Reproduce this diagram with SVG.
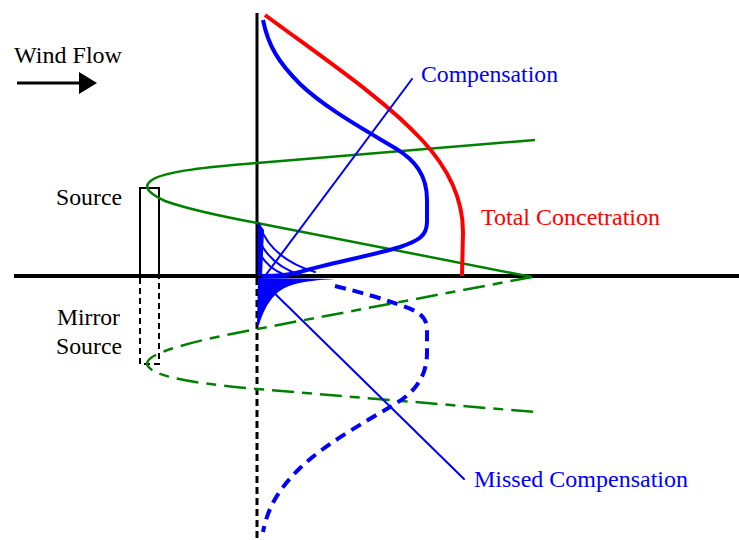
<svg xmlns="http://www.w3.org/2000/svg" width="739" height="540" viewBox="0 0 739 540">
<style>
  text { font-family: "Liberation Serif", "Times New Roman", serif; font-size: 23px; }
  .blk { fill: #000; }
  .blu { fill: #0000FF; }
  .red { fill: #FF0000; }
  .axis { stroke: #000; fill: none; }
  .green { stroke: #008000; stroke-width: 2.5; fill: none; }
  .greenDash { stroke: #008000; stroke-width: 2.5; fill: none; stroke-dasharray: 22 8 10 8; }
  .blueThick { stroke: #0000FF; stroke-width: 4; fill: none; stroke-linejoin: round; }
  .blueDash { stroke: #0000FF; stroke-width: 4; fill: none; stroke-dasharray: 11 7; }
  .blueThin { stroke: #0000FF; stroke-width: 2; fill: none; stroke-linecap: round; }
  .redThick { stroke: #FF0000; stroke-width: 4; fill: none; stroke-linejoin: round; }
</style>
<rect width="739" height="540" fill="#fff"/>

<g id="axes">
  <line class="axis" x1="14" y1="276" x2="739" y2="276" stroke-width="4"/>
  <line class="axis" x1="257" y1="13" x2="257" y2="276" stroke-width="3"/>
  <line class="axis" x1="257" y1="278" x2="257" y2="540" stroke-width="3" stroke-dasharray="7 4"/>
</g>

<g id="wind-flow">
  <text class="blk" x="14" y="63" textLength="108" lengthAdjust="spacingAndGlyphs">Wind Flow</text>
  <line x1="17" y1="83" x2="82" y2="83" stroke="#000" stroke-width="3"/>
  <polygon points="79,72 97,83 79,94" fill="#000"/>
</g>

<g id="source">
  <polyline points="140,276 140,188 159,188 159,276" fill="none" stroke="#000" stroke-width="2"/>
  <text class="blk" x="56" y="205" textLength="66" lengthAdjust="spacingAndGlyphs">Source</text>
</g>

<g id="mirror-source">
  <polyline points="140,278 140,364 159,364 159,278" fill="none" stroke="#000" stroke-width="2" stroke-dasharray="6 4"/>
  <text class="blk" x="57" y="325" textLength="63" lengthAdjust="spacingAndGlyphs">Mirror</text>
  <text class="blk" x="56" y="354" textLength="66" lengthAdjust="spacingAndGlyphs">Source</text>
</g>

<g id="plume">
  <path class="green" d="M535,140 L257,163 C210,167 165,171 152,180 C143,186 146,192 165,201 C190,210 225,217 257,223 L532,277"/>
</g>

<g id="mirror-plume">
  <path class="greenDash" d="M532,277 L257,329 C225,335 190,342 165,351 C146,358 143,364 152,370 C165,379 210,385 257,389 L535,412"/>
</g>

<g id="total-concentration">
  <path class="redThick" d="M265,15 C330,63 385,100 422,140 C450,170 463,200 463,232 L462,276"/>
  <text class="red" x="481" y="225" textLength="179" lengthAdjust="spacingAndGlyphs">Total Concetration</text>
</g>

<g id="concentration">
  <path class="blueThick" d="M263,20 C268,45 278,62 300,84 C325,108 365,130 395,148 C415,160 427,175 427,200 L427,222 C427,236 418,241 400,247 C370,256 330,263 300,272 C290,275 275,276 262,276"/>
  <polygon points="258,222 264,230 262,276 258,276" fill="#0000FF"/>
  <path class="blueThin" stroke-width="3" d="M259,224 C266,245 282,262 315,272"/>
  <path class="blueThin" d="M259,240 C266,256 280,268 300,275"/>
  <path class="blueThin" d="M259,252 C264,262 272,270 285,275"/>
</g>

<g id="mirror-concentration">
  <path d="M258,278 L335,279 C300,281 285,285 275,295 C267,303 262,315 259,325 L257,325 Z" fill="#0000FF"/>
  <path class="blueDash" d="M335,286 C360,292 380,298 400,305 C418,311 427,316 427,330 L427,352 C427,377 415,392 395,404 C365,422 325,444 300,468 C278,490 268,507 263,532"/>
</g>

<g id="connectors">
  <line class="blueThin" x1="412" y1="79" x2="265" y2="276"/>
  <line class="blueThin" x1="262" y1="281" x2="464" y2="479"/>
</g>

<g id="labels">
  <text class="blu" x="421" y="82" textLength="137" lengthAdjust="spacingAndGlyphs">Compensation</text>
  <text class="blu" x="474" y="487" textLength="214" lengthAdjust="spacingAndGlyphs">Missed Compensation</text>
</g>
</svg>
